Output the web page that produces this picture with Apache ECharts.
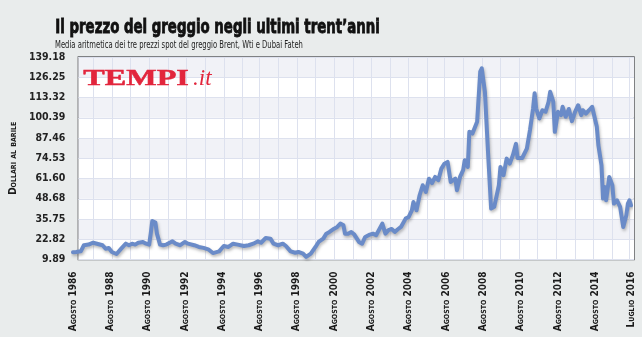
<!DOCTYPE html>
<html>
<head>
<meta charset="utf-8">
<script src="https://cdn.jsdelivr.net/npm/echarts@6/dist/echarts.min.js"></script>
<style>
  html, body { margin: 0; padding: 0; background: #e9ecec; }
  #chart { width: 642px; height: 337px; }
</style>
</head>
<body>
<div id="chart"></div>
<script>
// mesi: indice 0 = agosto 1986, 359 = luglio 2016
var mesiNomi = ['Gennaio', 'Febbraio', 'Marzo', 'Aprile', 'Maggio', 'Giugno',
  'Luglio', 'Agosto', 'Settembre', 'Ottobre', 'Novembre', 'Dicembre'];
var categorie = [];
for (var i = 0; i < 360; i++) {
  var m = (7 + i) % 12;
  var anno = 1986 + Math.floor((7 + i) / 12);
  categorie.push(mesiNomi[m] + ' ' + anno);
}

// tacche asse y
var yTickLabels = ['9.89', '22.82', '35.75', '48.68', '61.60', '74.53',
  '87.46', '100.39', '113.32', '126.25', '139.18'];

// punti (indice mese, dollari al barile)
var mesiCampione = [0, 2, 5, 7, 10, 13, 16, 19, 21, 23, 25, 28, 31, 34, 36, 38, 40, 42, 45, 47, 49,
  50, 51, 53, 54, 56, 58, 60, 64, 66, 69, 72, 74, 78, 81, 84, 87, 90, 94, 97, 100,
  103, 106, 110, 113, 116, 119, 121, 124, 127, 129, 132, 135, 137, 140, 143, 145, 148, 150,
  153, 156, 158, 161, 163, 165, 168, 170, 172, 174, 175, 177, 179, 181, 184, 186, 188, 191,
  193, 195, 199, 201, 203, 205, 207, 209, 211, 214, 216, 218, 219, 221, 223, 225, 227, 229,
  231, 233, 235, 237, 239, 241, 243, 244, 246, 247, 249, 251, 252, 254, 255, 257, 260, 262,
  263, 265, 267, 269, 271, 274, 275, 277, 279, 281, 283, 285, 286, 289, 292, 294, 296, 297,
  298, 300, 302, 304, 306, 307, 309, 310, 312, 314, 315, 317, 319, 321, 323, 325, 327, 328,
  330, 332, 334, 335, 337, 338, 340, 341, 342, 343, 345, 347, 348, 350, 352, 354, 356, 357,
  358, 359];
var prezzi = [14.5, 14.7, 15.1, 19.0, 19.4, 20.6, 19.8, 19.0, 16.8, 17.2, 14.7, 13.4, 16.8, 20.0, 19.0, 20.0, 19.4, 20.6, 21.1, 20.0, 19.4,
  26.4, 34.5, 33.5, 26.4, 19.4, 19.0, 19.4, 21.5, 20.0, 19.0, 21.1, 20.0, 19.0, 17.9, 17.3, 16.4, 14.0, 15.1, 18.5, 17.9,
  20.0, 19.4, 18.5, 19.0, 20.0, 21.5, 20.6, 23.6, 23.2, 20.0, 19.0, 20.0, 18.5, 15.1, 14.2, 14.7, 13.6, 11.5,
  13.6, 17.9, 21.1, 23.2, 26.4, 27.5, 29.6, 30.7, 32.8, 31.7, 26.4, 26.4, 27.5, 25.8, 21.1, 20.0, 24.3, 25.8,
  26.4, 25.4, 32.8, 26.4, 28.6, 29.4, 27.5, 29.2, 30.7, 36.0, 37.1, 41.3, 46.6, 41.3, 50.9, 57.3, 53.0, 61.5,
  58.6, 62.6, 60.5, 67.9, 71.1, 72.2, 59.4, 58.4, 61.5, 54.1, 62.6, 66.9, 73.3, 69.0, 91.4, 90.3, 97.8, 129.8,
  131.9, 117.0, 78.6, 42.4, 43.5, 57.3, 69.0, 63.7, 74.3, 71.1, 76.5, 83.7, 74.7, 74.7, 80.7, 92.5, 106.3, 116.0,
  106.3, 99.9, 105.2, 104.2, 110.6, 117.0, 110.6, 91.4, 104.2, 102.1, 107.4, 101.0, 106.0, 98.2, 104.2, 108.4, 102.1, 105.2,
  103.1, 105.2, 107.4, 103.1, 94.6, 82.9, 70.1, 48.8, 56.2, 47.7, 62.6, 57.3, 45.6, 47.7, 43.5, 30.7, 38.2, 45.6,
  47.7, 44.5];

var serie = mesiCampione.map(function (m, k) { return [m, prezzi[k]]; });

var fontStretto = '"Liberation Sans Narrow", "DejaVu Sans Condensed", sans-serif';

var chart = echarts.init(document.getElementById('chart'));
chart.setOption({
  backgroundColor: '#e9ecec',
  animation: false,
  graphic: [
    {
      type: 'text', left: 55, top: 18, z: 10,
      scaleX: 0.78,
      style: {
        text: 'Il prezzo del greggio negli ultimi trent\u2019anni',
        font: 'bold 19px ' + fontStretto,
        fill: '#111', stroke: '#111', lineWidth: 0.8
      }
    },
    {
      type: 'text', left: 55, top: 40, z: 10,
      scaleX: 0.76,
      style: {
        text: 'Media aritmetica dei tre prezzi spot del greggio Brent, Wti e Dubai Fateh',
        font: '10px ' + fontStretto,
        fill: '#222'
      }
    },
    {
      type: 'text', left: 83, top: 67, z: 10,
      scaleX: 1.4,
      style: { text: 'TEMPI', font: 'bold 23px "Liberation Serif", serif', fill: '#e2253c',
        stroke: '#e2253c', lineWidth: 0.5 }
    },
    {
      type: 'text', left: 193, top: 67, z: 10,
      style: { text: '.it', font: 'italic 23px "Liberation Serif", serif', fill: '#e2253c' }
    }
  ],
  grid: [
    {
      left: 69.5, right: 8, top: 57, bottom: 77.5,
      show: true, backgroundColor: '#ffffff',
      borderColor: '#5c5d60', borderWidth: 1.5
    },
    { left: 73, right: 11, top: 57, bottom: 77.5 }
  ],
  xAxis: [
    { gridIndex: 0, type: 'value', min: 0, max: 1, show: false },
    {
      gridIndex: 1,
      type: 'category',
      data: categorie,
      boundaryGap: false,
      axisLine: { show: false },
      axisTick: { show: false },
      axisLabel: {
        interval: function (idx) { return idx % 24 === 0 || idx === 359; },
        rotate: 90,
        margin: 12,
        fontStyle: 'small-caps',
        fontWeight: 'bold',
        fontSize: 10,
        fontFamily: fontStretto,
        color: '#1a1a1a'
      },
      splitLine: {
        show: true,
        interval: function (idx) {
          for (var k = 0; k < 30; k++) {
            if (Math.round(13.3 + k * 11.9) === idx) return true;
          }
          return false;
        },
        lineStyle: { color: '#dde1ee', width: 1 }
      }
    }
  ],
  yAxis: [
    {
      gridIndex: 0,
      type: 'value',
      min: 9.89, max: 139.18, interval: 12.929,
      name: 'Dollari al barile',
      nameLocation: 'middle',
      nameGap: 57,
      nameTextStyle: {
        fontStyle: 'small-caps', fontWeight: 'bold', fontSize: 10,
        fontFamily: fontStretto, color: '#1a1a1a'
      },
      axisLine: { show: false },
      axisTick: { show: false },
      axisLabel: {
        margin: 13,
        fontWeight: 'bold',
        fontSize: 10.5,
        fontFamily: fontStretto,
        color: '#222',
        formatter: function (v, idx) { return yTickLabels[idx]; }
      },
      splitLine: { lineStyle: { color: '#dde1ee', width: 1 } },
      splitArea: { show: true, areaStyle: { color: ['#ffffff', '#f1f2f7'] } }
    },
    {
      gridIndex: 1,
      type: 'value',
      min: 9.89, max: 139.18,
      show: false
    }
  ],
  series: [{
    type: 'line',
    xAxisIndex: 1,
    yAxisIndex: 1,
    data: serie,
    symbol: 'none',
    lineStyle: {
      color: '#6a8bc8',
      width: 4,
      cap: 'round',
      join: 'round',
      shadowColor: 'rgba(60,60,60,0.35)',
      shadowBlur: 3,
      shadowOffsetX: 1,
      shadowOffsetY: 2
    },
    z: 5
  }]
});
</script>
</body>
</html>
